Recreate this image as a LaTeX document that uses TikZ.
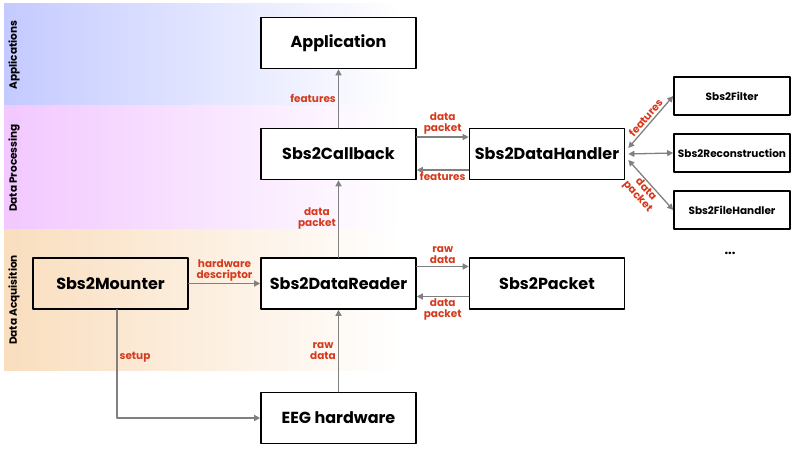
\documentclass[tikz,border=0pt]{standalone}
\usepackage{fontspec}
\setmainfont{Poppins}
\usetikzlibrary{arrows.meta}
\definecolor{ink}{RGB}{0,0,0}
\definecolor{wire}{RGB}{128,128,128}
\definecolor{tag}{RGB}{214,58,30}
\definecolor{appband}{RGB}{196,202,255}
\definecolor{procband}{RGB}{242,200,255}
\definecolor{acqband}{RGB}{249,222,190}

\tikzset{
  block/.style={draw=ink,line width=1.6pt,fill=white,minimum width=155pt,minimum height=51pt,
    font=\bfseries\fontsize{16}{18}\selectfont,text=ink},
  plugin/.style={block,minimum width=116pt,minimum height=38pt,font=\bfseries\fontsize{10.5}{12}\selectfont},
  flow/.style={draw=wire,line width=1.3pt,-{Triangle[length=6pt,width=6pt]}},
  twoway/.style={flow,{Triangle[length=6pt,width=6pt]}-{Triangle[length=6pt,width=6pt]}},
  tag/.style={font=\bfseries\fontsize{10.5}{11}\selectfont,text=tag,align=center,inner sep=2pt},
  layer/.style={font=\bfseries\fontsize{10.5}{11}\selectfont,text=ink,rotate=90}
}

\begin{document}
\begin{tikzpicture}[x=1pt,y=1pt,line cap=round,line join=round]
\useasboundingbox (0,0) rectangle (797,450);
% layers
\shade[left color=appband,right color=white] (4,344) rectangle (400,446);
\shade[left color=procband,right color=white] (4,220) rectangle (400,344);
\shade[left color=acqband,right color=white] (4,80) rectangle (400,220);
\node[layer] (lapp) at (14,395) {Applications};
\node[layer] (lproc) at (14,282) {Data Processing};
\node[layer] (lacq) at (14,150) {Data Acquisition};
% blocks
\node[block] (app) at (338.5,407) {Application};
\node[block] (cb) at (338.5,296) {Sbs2Callback};
\node[block] (dh) at (547,296) {Sbs2DataHandler};
\node[block,fill=none] (mnt) at (110.5,166.5) {Sbs2Mounter};
\node[block] (rdr) at (338.5,166.5) {Sbs2DataReader};
\node[block] (pkt) at (547,166.5) {Sbs2Packet};
\node[block] (eeg) at (338.5,32) {EEG hardware};
\node[plugin] (flt) at (732,354) {Sbs2Filter};
\node[plugin] (rec) at (732,297) {Sbs2Reconstruction};
\node[plugin] (fh) at (732,240) {Sbs2FileHandler};
\node[font=\bfseries\fontsize{13}{13}\selectfont] (more) at (730,197) {...};
% connections
\draw[flow] (cb.north) -- node[tag,left] {features} (app.south);
\draw[flow] (rdr.north) -- node[tag,left] {data\\packet} (cb.south);
\draw[flow] ([yshift=17pt]cb.east) -- node[tag,above] {data\\packet} ([yshift=17pt]dh.west);
\draw[flow] ([yshift=-16pt]dh.west) -- node[tag,below] {features} ([yshift=-16pt]cb.east);
\draw[flow] ([yshift=17pt]rdr.east) -- node[tag,above] {raw\\data} ([yshift=17pt]pkt.west);
\draw[flow] ([yshift=-13pt]pkt.west) -- node[tag,below] {data\\packet} ([yshift=-13pt]rdr.east);
\draw[flow] (mnt.east) -- node[tag,above] {hardware\\descriptor} (rdr.west);
\draw[flow] ([xshift=6.5pt]mnt.south) |- node[tag,right,pos=0.22] {setup} (eeg.west);
\draw[flow] (eeg.north) -- node[tag,left] {raw\\data} (rdr.south);
\draw[twoway] ([xshift=3pt,yshift=6pt]dh.east) -- node[tag,sloped,above] {features} (flt.west);
\draw[twoway] ([xshift=3pt]dh.east) -- (rec.west);
\draw[twoway] ([xshift=3pt,yshift=-6pt]dh.east) -- node[tag,sloped,below,inner sep=1pt] {data\\packet} (fh.west);
\end{tikzpicture}
\end{document}
